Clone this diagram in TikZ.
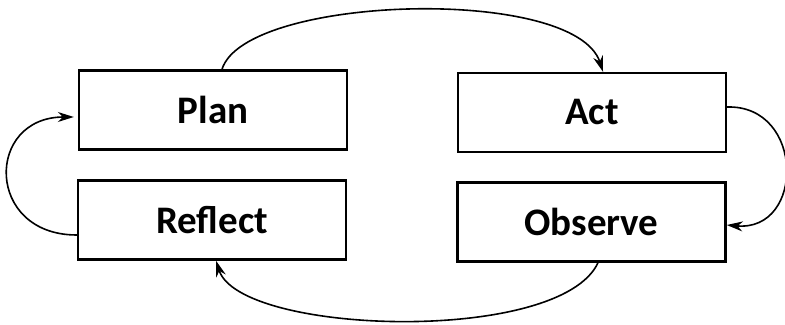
\documentclass[tikz,border=0pt]{standalone}
\usepackage{fontspec}
\setmainfont{Carlito}
\usepackage{tikz}
\usetikzlibrary{arrows.meta,positioning}

\tikzset{
    stagebox/.style={draw, line width=1.2pt, minimum width=134pt, minimum height=39.5pt,
        inner sep=0pt, font=\fontsize{19.5}{23}\selectfont\bfseries},
    cycle/.style={line width=.8pt, -{Stealth[length=8pt,width=5pt]}}
}

\begin{document}
\begin{tikzpicture}[x=.5pt,y=-.5pt]
    \useasboundingbox (0,0) rectangle (785,325);

    % the four stages
    \node[stagebox] (plan) at (213,110) {Plan};
    \node[stagebox] (act) at (592,112.5) {Act};
    \node[stagebox] (reflect) at (212,220) {Reflect};
    \node[stagebox] (observe) at (591.5,222) {Observe};

    % arrows round the cycle
    \draw[cycle] ([xshift=4.5pt]plan.north) .. controls (245,-5) and (575,-15) .. ([xshift=5.5pt]act.north);
    \draw[cycle] ([yshift=2.75pt]act.east) .. controls (805,105) and (805,232) .. ([yshift=-1.5pt]observe.east);
    \draw[cycle] ([xshift=3.25pt]observe.south) .. controls (560,345) and (240,335) .. ([xshift=2pt]reflect.south);
    \draw[cycle] ([yshift=-7.5pt]reflect.west) .. controls (-15,235) and (-15,117) .. ([xshift=-2pt,yshift=-3.5pt]plan.west);
\end{tikzpicture}
\end{document}
